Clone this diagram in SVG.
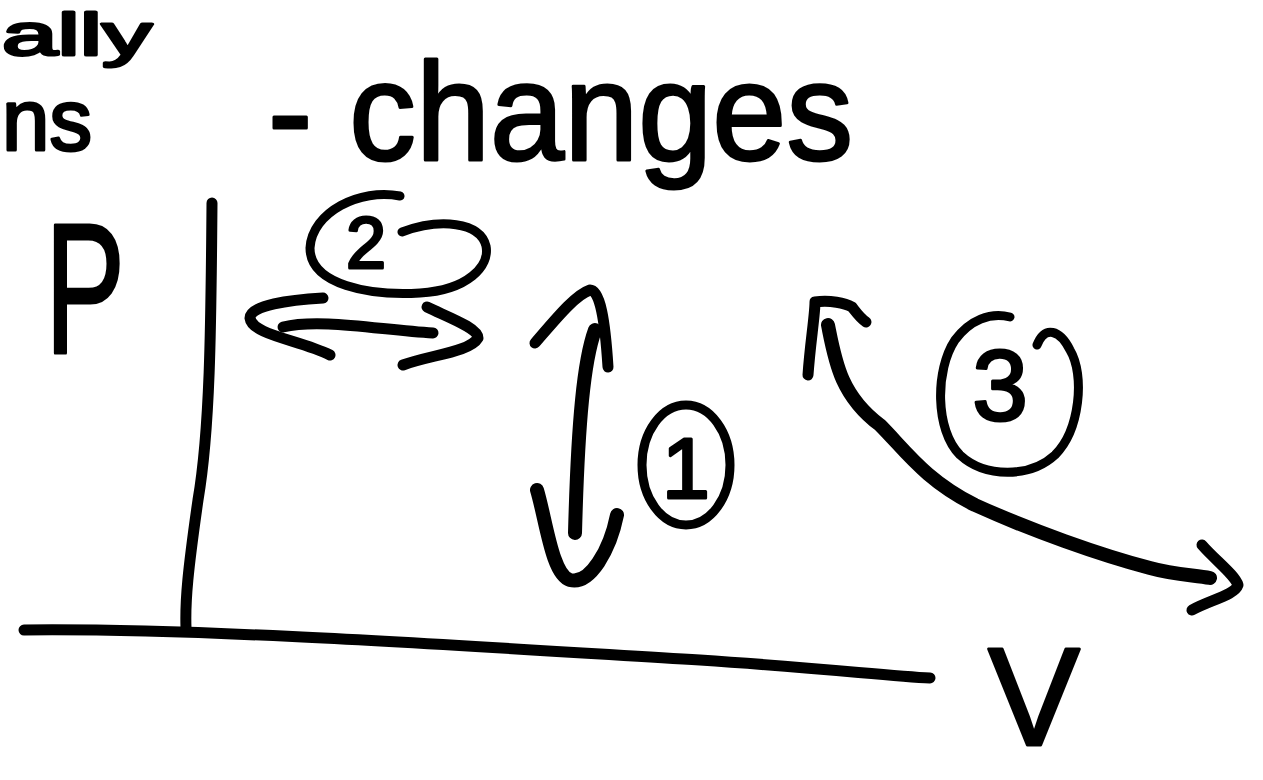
<svg xmlns="http://www.w3.org/2000/svg" width="1263" height="780" viewBox="0 0 1263 780">
<style>
.s{fill:none;stroke:#000;stroke-width:11;stroke-linecap:round;stroke-linejoin:round}
.t{stroke-width:9}
.k{stroke-width:14}
.h{font-family:"Liberation Sans","DejaVu Sans",sans-serif;fill:#000;stroke:#000;stroke-width:3;stroke-linejoin:round}
</style>
<rect width="1263" height="780" fill="#fff"/>
<g id="heading">
<text class="h" x="2" y="55" font-size="60" textLength="150" lengthAdjust="spacingAndGlyphs">ally</text>
<text class="h" x="2" y="150" font-size="88" textLength="90" lengthAdjust="spacingAndGlyphs">ns</text>
<text class="h" x="268" y="160" font-size="140" textLength="585" lengthAdjust="spacingAndGlyphs">- changes</text>
</g>
<g id="axes">
<path class="s" d="M212,203 C211,330 210,430 198,500 C188,570 185,600 186,628"/>
<path class="s" d="M24,630 C200,628 450,645 700,660 C820,668 890,676 930,678"/>
<text class="h" x="45" y="353" font-size="185" textLength="80" lengthAdjust="spacingAndGlyphs">P</text>
<text class="h" x="988" y="745" font-size="140" textLength="92" lengthAdjust="spacingAndGlyphs">V</text>
</g>
<g id="process-2">
<path class="s t" d="M400,196 C360,188 312,212 310,248 C310,285 370,296 420,293 C468,290 490,266 486,246 C480,222 440,218 402,232"/>
<text class="h" x="366" y="268" font-size="72" text-anchor="middle">2</text>
<path class="s" d="M283,327 C320,318 380,330 433,333"/>
<path class="s" d="M323,298 C290,300 250,305 250,318 C252,335 300,340 330,355"/>
<path class="s" d="M427,307 C450,318 478,328 478,338 C470,352 430,355 403,365"/>
</g>
<g id="process-1">
<path class="s k" d="M595,330 C584,360 578,420 575,533"/>
<path class="s" d="M535,343 C555,320 575,295 590,290 C600,290 605,320 608,367"/>
<path class="s k" d="M537,490 C546,520 552,575 570,580 C590,585 610,550 617,515"/>
<ellipse class="s t" cx="686" cy="465" rx="44" ry="60"/>
<text class="h" x="686" y="498" font-size="86" text-anchor="middle">1</text>
</g>
<g id="process-3">
<path class="s k" d="M828,325 C835,360 840,395 880,425 C905,450 925,480 975,505 C1030,530 1100,555 1150,568 C1175,575 1195,575 1210,578"/>
<path class="s" d="M808,375 C810,345 815,315 815,302 C830,300 845,303 852,307 C856,312 860,318 866,322"/>
<path class="s" d="M1202,545 C1215,560 1235,575 1238,585 C1235,595 1210,600 1192,610"/>
<path class="s t" d="M1010,317 C990,312 970,320 955,340 C935,370 935,430 960,455 C985,478 1030,478 1055,455 C1080,430 1085,375 1070,350 C1060,330 1045,325 1037,345"/>
<text class="h" x="1000" y="420" font-size="100" text-anchor="middle">3</text>
</g>
</svg>
